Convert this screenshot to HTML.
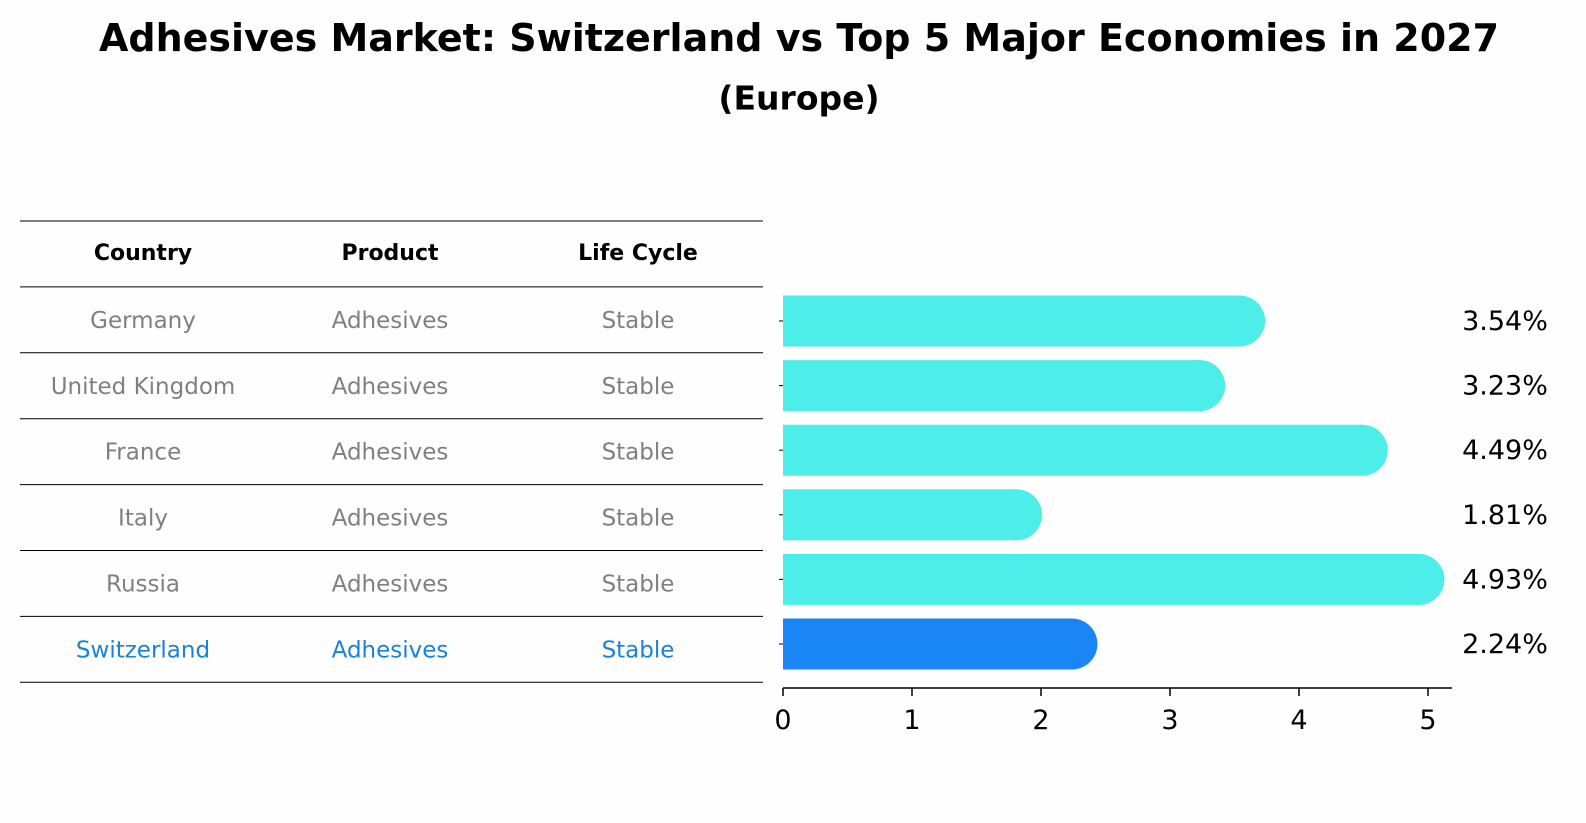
<!DOCTYPE html>
<html><head><meta charset="utf-8"><style>
body{margin:0;background:#fefefe;font-family:"DejaVu Sans","Liberation Sans",sans-serif;}
#wrap{position:relative;width:1586px;height:823px;overflow:hidden;}
.t{position:absolute;white-space:nowrap;transform:translate(-50%,-50%);}
</style></head><body>
<div id="wrap">
<div class="t" style="left:799px;top:38px;font-weight:bold;font-size:38px;">Adhesives Market: Switzerland vs Top 5 Major Economies in 2027</div>
<div class="t" style="left:799px;top:98px;font-weight:bold;font-size:33px;">(Europe)</div>
<svg id="svg" width="1586" height="823" style="position:absolute;left:0;top:0"></svg>
</div>
<script>
const countries=["Germany","United Kingdom","France","Italy","Russia","Switzerland"];
const products=["Adhesives","Adhesives","Adhesives","Adhesives","Adhesives","Adhesives"];
const lifeCycle=["Stable","Stable","Stable","Stable","Stable","Stable"];
const values=[3.54,3.23,4.49,1.81,4.93,2.24];
const valueLabels=["3.54%","3.23%","4.49%","1.81%","4.93%","2.24%"];
const xTicks=[0,1,2,3,4,5];
const headers=["Country","Product","Life Cycle"];

const NS="http://www.w3.org/2000/svg";
const svg=document.getElementById('svg');
function mk(tag,attrs,txt){const e=document.createElementNS(NS,tag);for(const k in attrs)e.setAttribute(k,attrs[k]);if(txt!==undefined)e.textContent=txt;svg.appendChild(e);return e;}
const x=v=>783+v*129;
const rowY=i=>321+i*64.6;
const colX=[143,390,638];
for(let i=0;i<8;i++){
  const yy=221+i*65.9;
  const l=mk('line',{x1:20,x2:763,y1:yy,y2:yy,stroke:'#000','stroke-width':1});
  
  
}
headers.forEach((h,j)=>{
  const t=mk('text',{x:colX[j],y:260,'text-anchor':'middle','font-size':22,'font-weight':'bold',fill:'#000'},h);
  
  
});
countries.forEach((c,i)=>{
  const yy=221+(i+1)*65.9+33+8;
  const col=i===5?'#1a82d8':'#808080';
  [c,products[i],lifeCycle[i]].forEach((s,j)=>{
    const t=mk('text',{x:colX[j],y:yy,'text-anchor':'middle','font-size':23,fill:col},s);
    
    
  });
});
const h=51,r=25.5;
values.forEach((v,i)=>{
  const cy=rowY(i),col=i===5?'#1a85f5':'#4deeea';
  const g=document.createElementNS(NS,'g');svg.appendChild(g);
  
  
  const rect=document.createElementNS(NS,'rect');
  rect.setAttribute('x',x(0));rect.setAttribute('y',cy-h/2);rect.setAttribute('width',x(v)-x(0));rect.setAttribute('height',h);rect.setAttribute('fill',col);
  g.appendChild(rect);
  const circ=document.createElementNS(NS,'circle');
  circ.setAttribute('cx',x(v));circ.setAttribute('cy',cy);circ.setAttribute('r',r);circ.setAttribute('fill',col);
  g.appendChild(circ);
  const t=mk('text',{x:1505,y:cy+9,'text-anchor':'middle','font-size':27,fill:'#000'},valueLabels[i]);
  
  
  const tk=mk('line',{x1:779,x2:783,y1:cy,y2:cy,stroke:'#000','stroke-width':1});
  
  
});
const ax=mk('line',{x1:783,x2:1452,y1:688,y2:688,stroke:'#000','stroke-width':1.5});


xTicks.forEach(v=>{
  const l=mk('line',{x1:x(v),x2:x(v),y1:688,y2:696,stroke:'#000','stroke-width':1.5});
  
  
  const t=mk('text',{x:x(v),y:729,'text-anchor':'middle','font-size':27,fill:'#000'},String(v));
  
  
});
</script>
</body></html>
